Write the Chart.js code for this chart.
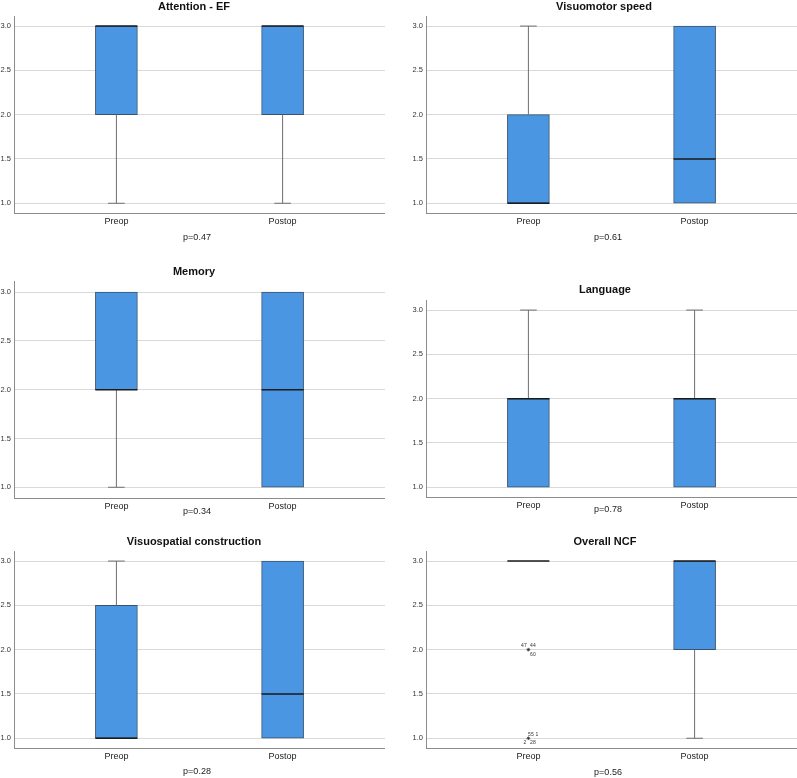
<!DOCTYPE html>
<html>
<head>
<meta charset="utf-8">
<script src="https://cdn.jsdelivr.net/npm/chart.js@4.4.1/dist/chart.umd.min.js"></script>
<style>
  html, body { margin: 0; padding: 0; background: #fff; overflow: hidden; }
  #page { position: relative; width: 797px; height: 778px; font-family: 'Liberation Sans', Arial, sans-serif; }
  #page canvas { position: absolute; }
  .title { position: absolute; transform: translate(-50%, -50%); font-weight: bold; font-size: 11px; color: #111; white-space: nowrap; }
  .pval { position: absolute; transform: translate(-50%, -50%); font-size: 9px; color: #222; white-space: nowrap; }
</style>
</head>
<body>
<div id="page"></div>
<script>
// Pre/postop boxplots, one chart per domain

// --- Data ---
const groups = ['Preop', 'Postop'];
const yTicks = [1.0, 1.5, 2.0, 2.5, 3.0];

const titles = ['Attention - EF', 'Visuomotor speed', 'Memory', 'Language', 'Visuospatial construction', 'Overall NCF'];
const pValues = ['p=0.47', 'p=0.61', 'p=0.34', 'p=0.78', 'p=0.28', 'p=0.56'];

// [min, q1, median, q3, max] for Preop, Postop
const attentionEF  = [[1, 2, 3, 3, 3],   [1, 2, 3, 3, 3]];
const visuomotor   = [[1, 1, 1, 2, 3],   [1, 1, 1.5, 3, 3]];
const memory       = [[1, 2, 2, 3, 3],   [1, 1, 2, 3, 3]];
const language     = [[1, 1, 2, 2, 3],   [1, 1, 2, 2, 3]];
const visuospatial = [[1, 1, 1, 2.5, 3], [1, 1, 1.5, 3, 3]];
const overallNCF   = [[3, 3, 3, 3, 3],   [1, 2, 3, 3, 3]];

// outliers (Overall NCF, Preop) and their case numbers
const ncfOutlierValues = [2, 1];
const ncfOutlierCases = [['47', '44', '60'], ['55', '1', '2', '28']];

// --- Layout / style ---
const X_MIN = -0.616, X_MAX = 1.616;
const BOX_PX = 42;
const BOX_HALF = 0.1264;   // 21px in x units
const CAP_HALF = 0.05;
const PAD_TOP = 4, X_AXIS_H = 22, Y_AXIS_W = 14, CANVAS_W = 385;

const FILL = '#4a96e3';
const EDGE = '#3a526c';
const MEDIAN = '#1b1b1b';
const WHISKER = '#6e6e6e';
const GRID = '#d9d9d9';
const AXIS = '#8c8c8c';

// label slots around the outlier marker
const caseSlots = [
  [[-4.5, -4.5], [4.5, -4.5], [4.5, 4.5]],
  [[2.5, -4], [8.5, -4], [-3.5, 4.7], [4.5, 4.7]]
];

const panels = [
  { stats: attentionEF,  left: 0,   top: 9,   plotH: 200, titleX: 194, titleY: 6,   pX: 197, pY: 237 },
  { stats: visuomotor,   left: 412, top: 9,   plotH: 200, titleX: 604, titleY: 6,   pX: 608, pY: 237 },
  { stats: memory,       left: 0,   top: 274, plotH: 220, titleX: 194, titleY: 271, pX: 197, pY: 511 },
  { stats: language,     left: 412, top: 293, plotH: 200, titleX: 605, titleY: 289, pX: 608, pY: 509 },
  { stats: visuospatial, left: 0,   top: 544, plotH: 200, titleX: 194, titleY: 541, pX: 197, pY: 771 },
  { stats: overallNCF,   left: 412, top: 544, plotH: 200, titleX: 605, titleY: 541, pX: 608, pY: 772,
    outliers: { group: 0, values: ncfOutlierValues, cases: ncfOutlierCases } }
];

Chart.defaults.font.family = "'Liberation Sans', Arial, sans-serif";

// draws the case numbers next to outlier marks
const caseLabels = {
  id: 'caseLabels',
  afterDatasetsDraw(chart, args, opts) {
    if (!opts || !opts.values) return;
    const ctx = chart.ctx;
    const x = chart.scales.x, y = chart.scales.y;
    ctx.save();
    ctx.font = "5px 'Liberation Sans', Arial, sans-serif";
    ctx.fillStyle = '#333';
    ctx.textAlign = 'center';
    ctx.textBaseline = 'middle';
    opts.values.forEach((v, i) => {
      const px = x.getPixelForValue(opts.group);
      const py = y.getPixelForValue(v);
      opts.cases[i].forEach((c, j) => {
        const [dx, dy] = caseSlots[i][j];
        ctx.fillText(c, px + dx, py + dy);
      });
    });
    ctx.restore();
  }
};

function buildDatasets(stats, outliers) {
  const boxes = stats.map((s, i) => ({ x: i, y: [s[1], s[3]] }));
  const medians = [];
  const whiskers = [];
  stats.forEach((s, i) => {
    const [lo, q1, med, q3, hi] = s;
    medians.push({ x: i - BOX_HALF, y: med }, { x: i + BOX_HALF, y: med }, { x: i, y: null });
    if (lo < q1) {
      whiskers.push({ x: i, y: lo }, { x: i, y: q1 }, { x: i, y: null });
      whiskers.push({ x: i - CAP_HALF, y: lo }, { x: i + CAP_HALF, y: lo }, { x: i, y: null });
    }
    if (hi > q3) {
      whiskers.push({ x: i, y: q3 }, { x: i, y: hi }, { x: i, y: null });
      whiskers.push({ x: i - CAP_HALF, y: hi }, { x: i + CAP_HALF, y: hi }, { x: i, y: null });
    }
  });

  const ds = [
    { type: 'bar', data: boxes, backgroundColor: FILL, borderColor: EDGE, borderWidth: 1,
      borderSkipped: false, barThickness: BOX_PX, order: 3 },
    { type: 'line', data: whiskers, borderColor: WHISKER, borderWidth: 1, pointRadius: 0,
      spanGaps: false, order: 2 },
    { type: 'line', data: medians, borderColor: MEDIAN, borderWidth: 1.5, pointRadius: 0,
      spanGaps: false, order: 1 }
  ];
  if (outliers) {
    ds.push({ type: 'line', showLine: false, order: 0,
      data: outliers.values.map(v => ({ x: outliers.group, y: v })),
      pointStyle: 'star', pointRadius: 1.8, borderColor: '#333', borderWidth: 0.8 });
  }
  return ds;
}

const page = document.getElementById('page');

panels.forEach((p, k) => {
  const canvas = document.createElement('canvas');
  canvas.width = CANVAS_W;
  canvas.height = PAD_TOP + p.plotH + X_AXIS_H;
  canvas.style.left = p.left + 'px';
  canvas.style.top = p.top + 'px';
  page.appendChild(canvas);

  const t = document.createElement('div');
  t.className = 'title';
  t.textContent = titles[k];
  t.style.left = p.titleX + 'px';
  t.style.top = p.titleY + 'px';
  page.appendChild(t);

  const pv = document.createElement('div');
  pv.className = 'pval';
  pv.textContent = pValues[k];
  pv.style.left = p.pX + 'px';
  pv.style.top = p.pY + 'px';
  page.appendChild(pv);

  new Chart(canvas.getContext('2d'), {
    type: 'bar',
    data: { datasets: buildDatasets(p.stats, p.outliers) },
    plugins: [caseLabels],
    options: {
      responsive: false,
      animation: false,
      layout: { autoPadding: false, padding: { top: PAD_TOP, left: 0, right: 0, bottom: 0 } },
      plugins: {
        legend: { display: false },
        tooltip: { enabled: false },
        caseLabels: p.outliers || {}
      },
      scales: {
        x: {
          type: 'linear', min: X_MIN, max: X_MAX, offset: false,
          afterBuildTicks: s => { s.ticks = groups.map((g, i) => ({ value: i })); },
          afterFit: s => { s.height = X_AXIS_H; },
          ticks: { autoSkip: false, maxRotation: 0, padding: 3, color: '#222', font: { size: 9 },
            callback: (v, i) => groups[i] },
          grid: { color: 'rgba(0,0,0,0)', drawTicks: false },
          border: { display: true, color: AXIS, width: 1 }
        },
        y: {
          min: 0.89, max: 3.108, beginAtZero: false,
          afterBuildTicks: s => { s.ticks = yTicks.map(v => ({ value: v })); },
          afterFit: s => { s.width = Y_AXIS_W; },
          ticks: { padding: 3, color: '#333', font: { size: 7.5 }, callback: v => v.toFixed(1) },
          grid: { color: GRID, lineWidth: 1, drawTicks: false },
          border: { display: true, color: AXIS, width: 1 }
        }
      }
    }
  });
});
</script>
</body>
</html>
